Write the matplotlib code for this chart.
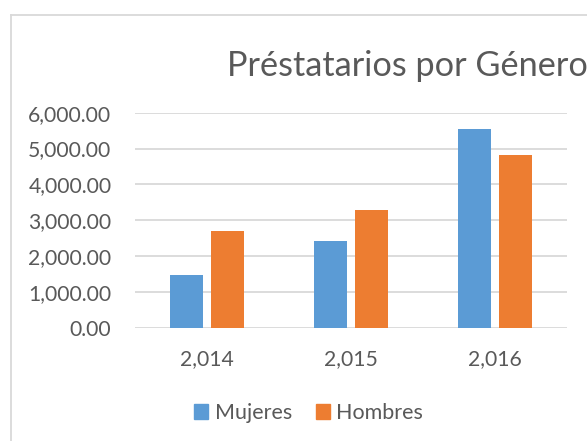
import matplotlib.pyplot as plt
import numpy as np
from matplotlib.patches import Patch
from matplotlib.lines import Line2D
from matplotlib.ticker import FuncFormatter

# --- Datos ---
anios = ["2,014", "2,015", "2,016"]
mujeres = [1470, 2420, 5535]
hombres = [2690, 3300, 4830]
series = ["Mujeres", "Hombres"]

azul = "#5B9BD5"
naranja = "#ED7D31"
gris_txt = "#595959"
gris_linea = "#D9D9D9"

plt.rcParams["font.family"] = ["Lato", "DejaVu Sans"]

fig = plt.figure(figsize=(5.87, 4.41), dpi=100)
ax = fig.add_axes([0.230, 0.2562, 0.736, 0.4883])

x = np.arange(len(anios))
ancho = 0.229
off = 0.1424
ax.bar(x - off, mujeres, ancho, color=azul, zorder=3)
ax.bar(x + off, hombres, ancho, color=naranja, zorder=3)

ax.set_xlim(-0.5, 2.5)
ax.set_ylim(0, 6000)
ax.set_yticks(range(0, 6001, 1000))
ax.yaxis.set_major_formatter(FuncFormatter(lambda v, p: f"{v:,.2f}"))
ax.set_xticks(x)
ax.set_xticklabels(anios)
ax.grid(axis="y", color=gris_linea, linewidth=1.3, zorder=0)
for s in ax.spines.values():
    s.set_visible(False)
ax.tick_params(length=0, labelsize=15.2, colors=gris_txt)
ax.tick_params(axis="y", pad=17)
ax.tick_params(axis="x", pad=15)

# --- Título ---
fig.text(227 / 587, 1 - 76 / 441, "Préstatarios por Género", fontsize=24.7,
         color=gris_txt, ha="left", va="baseline")

# --- Leyenda ---
handles = [Patch(color=azul), Patch(color=naranja)]
fig.legend(handles, series, loc="center", bbox_to_anchor=(308.5 / 587, 1 - 413 / 441),
           ncol=2, frameon=False, fontsize=15.5, labelcolor=gris_txt,
           handlelength=0.65, handleheight=0.65, handletextpad=0.3, columnspacing=1.1)

# --- Borde del gráfico ---
fig.add_artist(Line2D([10.5 / 587, 10.5 / 587], [0, 1 - 15 / 441], color=gris_linea, lw=1.3,
                      transform=fig.transFigure))
fig.add_artist(Line2D([10.5 / 587, 1], [1 - 15 / 441, 1 - 15 / 441], color=gris_linea, lw=1.3,
                      transform=fig.transFigure))

fig.savefig("out.png", dpi=100)
